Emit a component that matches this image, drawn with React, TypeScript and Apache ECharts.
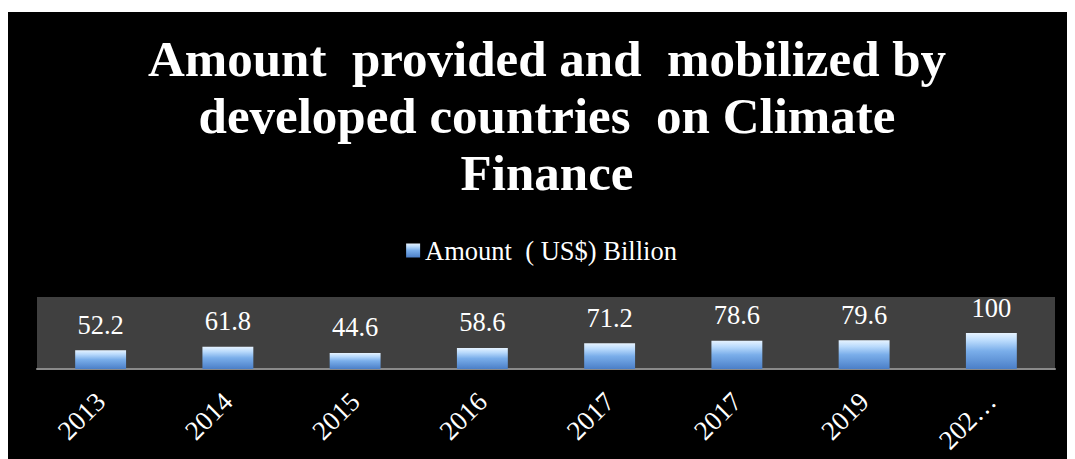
import React, { useEffect, useRef } from "react";
import * as echarts from "echarts";

const categories = ["2013", "2014", "2015", "2016", "2017", "2017", "2019", "2020"];
const amounts = [52.2, 61.8, 44.6, 58.6, 71.2, 78.6, 79.6, 100];
const seriesName = "Amount  ( US$) Billion";
const titleText = "Amount  provided and  mobilized by\ndeveloped countries  on Climate\nFinance";

const FONT = "'Liberation Serif', 'DejaVu Serif', serif";

export default function App() {
  const ref = useRef<HTMLDivElement>(null);
  useEffect(() => {
    if (!ref.current) return;
    const chart = echarts.init(ref.current, undefined, { renderer: "svg" });
    const barGradient = new echarts.graphic.LinearGradient(0, 0, 0, 1, [
      { offset: 0, color: "#e6f3ff" },
      { offset: 0.22, color: "#b9dafc" },
      { offset: 0.5, color: "#7aaeea" },
      { offset: 1, color: "#4b7fc8" },
    ]);
    chart.setOption({
      animation: false,
      backgroundColor: "#000000",
      graphic: [
        {
          type: "text",
          x: 539,
          y: 18,
          style: {
            text: titleText,
            textAlign: "center",
            textVerticalAlign: "top",
            fill: "#ffffff",
            fontFamily: FONT,
            fontWeight: "bold",
            fontSize: 51,
            lineHeight: 57,
          },
        },
      ],
      legend: {
        top: 220,
        left: "center",
        itemWidth: 14,
        itemHeight: 14,
        itemGap: 10,
        icon: "rect",
        textStyle: { color: "#ffffff", fontFamily: FONT, fontSize: 26.5 },
        data: [seriesName],
      },
      grid: {
        left: 29,
        right: 20,
        top: 285,
        bottom: 90,
        show: true,
        backgroundColor: "#404040",
        borderWidth: 0,
        containLabel: false,
      },
      xAxis: {
        type: "category",
        data: categories,
        axisLine: { show: true, lineStyle: { color: "#8a8a8a", width: 2 } },
        axisTick: { show: false },
        axisLabel: {
          color: "#ffffff",
          fontFamily: FONT,
          fontSize: 27,
          rotate: 45,
          margin: 28,
          interval: 0,
          formatter: (v: string, i: number) =>
            i === categories.length - 1 ? v.slice(0, 3) + "\u2026" : v,
        },
      },
      yAxis: {
        type: "value",
        min: 0,
        max: 200,
        show: false,
        splitLine: { show: false },
      },
      series: [
        {
          name: seriesName,
          type: "bar",
          data: amounts,
          barWidth: "40%",
          itemStyle: { color: barGradient },
          label: {
            show: true,
            position: "top",
            distance: 12,
            color: "#ffffff",
            fontFamily: FONT,
            fontSize: 26.5,
          },
        },
      ],
    });
    return () => chart.dispose();
  }, []);
  return (
    <div
      ref={ref}
      style={{ width: 1067, height: 447, marginTop: 4 }}
    />
  );
}
